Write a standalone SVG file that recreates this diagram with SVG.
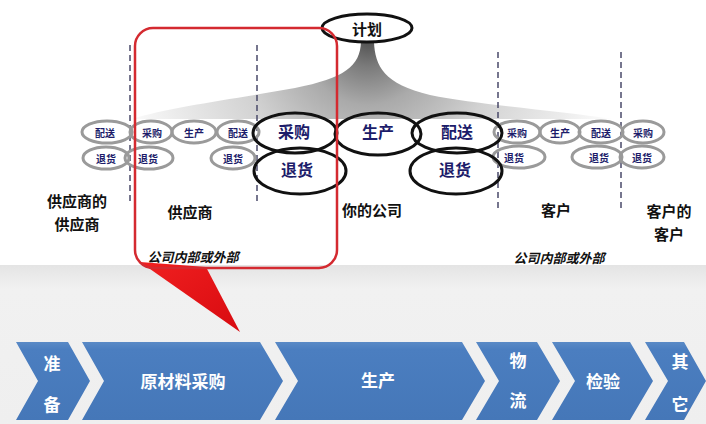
<svg xmlns="http://www.w3.org/2000/svg" width="706" height="424" viewBox="0 0 706 424">
<defs>
<radialGradient id="funnel" gradientUnits="userSpaceOnUse" cx="368" cy="40" r="260">
<stop offset="0" stop-color="#505050"/>
<stop offset="0.1" stop-color="#7a7a7a"/>
<stop offset="0.25" stop-color="#aaaaaa"/>
<stop offset="0.5" stop-color="#d2d2d2"/>
<stop offset="0.8" stop-color="#ececec"/>
<stop offset="1" stop-color="#ffffff"/>
</radialGradient>
<linearGradient id="bottombg" x1="0" y1="0" x2="0" y2="1">
<stop offset="0" stop-color="#e4e4e4"/>
<stop offset="0.15" stop-color="#f1f1f1"/>
<stop offset="1" stop-color="#efefef"/>
</linearGradient>
<linearGradient id="chev" x1="0" y1="0" x2="0" y2="1">
<stop offset="0" stop-color="#5a8ac6"/>
<stop offset="0.1" stop-color="#4b7ec0"/>
<stop offset="1" stop-color="#4577b8"/>
</linearGradient>
<linearGradient id="tail" x1="0" y1="0" x2="1" y2="1">
<stop offset="0" stop-color="#f02020"/>
<stop offset="1" stop-color="#d80a10"/>
</linearGradient>
</defs>
<style>
.sm{fill:none;stroke:#9a9a9a;stroke-width:3}
.big{fill:none;stroke:#111;stroke-width:3}
.smt{font-family:"Noto Sans CJK SC",sans-serif;font-size:10px;font-weight:bold;fill:#1c1c6a;text-anchor:middle;dominant-baseline:central}
.bigt{font-family:"Noto Sans CJK SC",sans-serif;font-size:16px;font-weight:bold;fill:#1c1c6a;text-anchor:middle;dominant-baseline:central}
.lbl{font-family:"Noto Sans CJK SC",sans-serif;font-size:15px;font-weight:bold;fill:#111;text-anchor:middle;dominant-baseline:central}
.it{font-family:"Noto Sans CJK SC",sans-serif;font-size:13px;font-weight:bold;font-style:italic;fill:#111;text-anchor:middle;dominant-baseline:central}
.dash{stroke:#4a4a6a;stroke-width:1.5;stroke-dasharray:6 4;fill:none}
.cv{fill:url(#chev)}
.cvt{font-family:"Noto Sans CJK SC",sans-serif;font-size:17px;font-weight:bold;fill:#ffffff;text-anchor:middle;dominant-baseline:central}
</style>
<rect x="0" y="0" width="706" height="424" fill="#ffffff"/>
<rect x="0" y="265" width="706" height="159" fill="url(#bottombg)"/>

<g id="funnel-shape">
<path d="M361,42 C360,66 345,78 295,88 C235,99 170,107 132,119 L612,119 C560,111 480,105 430,95 C384,84 375,66 374,42 Z" fill="url(#funnel)"/>
</g>

<g id="connectors">
<line class="dash" x1="130" y1="45" x2="130" y2="205"/>
<line class="dash" x1="257" y1="45" x2="257" y2="205"/>
<line class="dash" x1="498" y1="52" x2="498" y2="212"/>
<line class="dash" x1="621" y1="52" x2="621" y2="212"/>
</g>

<g id="plan">
<ellipse cx="367" cy="28" rx="45" ry="14" fill="#fff" stroke="#111" stroke-width="3"/>
<text class="lbl" x="367" y="28">计划</text>
</g>

<g id="supplier-small">
<ellipse class="sm" cx="107" cy="132" rx="25" ry="11"/>
<ellipse class="sm" cx="151" cy="132" rx="21" ry="11"/>
<ellipse class="sm" cx="194" cy="132" rx="22" ry="11"/>
<ellipse class="sm" cx="238" cy="132" rx="21" ry="11"/>
<ellipse class="sm" cx="106" cy="158" rx="23" ry="11"/>
<ellipse class="sm" cx="149" cy="158" rx="24" ry="11"/>
<ellipse class="sm" cx="233" cy="158" rx="22" ry="11"/>
<text class="smt" x="105" y="132">配送</text>
<text class="smt" x="152" y="132">采购</text>
<text class="smt" x="194" y="132">生产</text>
<text class="smt" x="238" y="132">配送</text>
<text class="smt" x="106" y="158">退货</text>
<text class="smt" x="148" y="158">退货</text>
<text class="smt" x="233" y="158">退货</text>
</g>

<g id="customer-small">
<ellipse class="sm" cx="517" cy="132" rx="23" ry="11"/>
<ellipse class="sm" cx="560" cy="132" rx="20" ry="11"/>
<ellipse class="sm" cx="601" cy="132" rx="22" ry="11"/>
<ellipse class="sm" cx="643" cy="132" rx="21" ry="11"/>
<ellipse class="sm" cx="519" cy="157" rx="26" ry="11"/>
<ellipse class="sm" cx="597" cy="157" rx="25" ry="11"/>
<ellipse class="sm" cx="642" cy="157" rx="22" ry="11"/>
<text class="smt" x="517" y="132">采购</text>
<text class="smt" x="560" y="132">生产</text>
<text class="smt" x="601" y="132">配送</text>
<text class="smt" x="643" y="132">采购</text>
<text class="smt" x="514" y="157">退货</text>
<text class="smt" x="599" y="157">退货</text>
<text class="smt" x="642" y="157">退货</text>
</g>

<g id="company">
<ellipse class="big" cx="295" cy="133" rx="42" ry="20"/>
<ellipse class="big" cx="378" cy="134" rx="43" ry="21"/>
<ellipse class="big" cx="457" cy="133" rx="45" ry="20"/>
<ellipse class="big" cx="300" cy="171" rx="46" ry="23"/>
<ellipse class="big" cx="456" cy="171" rx="46" ry="23"/>
<text class="bigt" x="294" y="131">采购</text>
<text class="bigt" x="378" y="131">生产</text>
<text class="bigt" x="457" y="131">配送</text>
<text class="bigt" x="297" y="169">退货</text>
<text class="bigt" x="455" y="169">退货</text>
</g>

<g id="labels">
<text class="lbl" x="77" y="200">供应商的</text>
<text class="lbl" x="77" y="223">供应商</text>
<text class="lbl" x="190" y="211">供应商</text>
<text class="lbl" x="372" y="209">你的公司</text>
<text class="lbl" x="556" y="209">客户</text>
<text class="lbl" x="669" y="210">客户的</text>
<text class="lbl" x="669" y="233">客户</text>
<text class="it" x="193" y="256">公司内部或外部</text>
<text class="it" x="559" y="257">公司内部或外部</text>
</g>

<g id="highlight">
<polygon points="140,262 206,267 240,332" fill="url(#tail)"/>
<rect x="135" y="28" width="202" height="240" rx="18" ry="18" fill="none" stroke="#d42a30" stroke-width="2.5"/>
</g>

<g id="step-prepare">
<path class="cv" d="M16,342 L68,342 L90,381 L68,420 L16,420 L38,381 Z"/>
<text class="cvt" x="52" y="362">准</text>
<text class="cvt" x="52" y="403">备</text>
</g>
<g id="step-purchase">
<path class="cv" d="M82,342 L260,342 L283,381 L260,420 L82,420 L104,381 Z"/>
<text class="cvt" x="183" y="380">原材料采购</text>
</g>
<g id="step-production">
<path class="cv" d="M275,342 L462,342 L485,381 L462,420 L275,420 L298,381 Z"/>
<text class="cvt" x="378" y="379">生产</text>
</g>
<g id="step-logistics">
<path class="cv" d="M476,342 L537,342 L560,381 L537,420 L476,420 L499,381 Z"/>
<text class="cvt" x="518" y="359">物</text>
<text class="cvt" x="518" y="399">流</text>
</g>
<g id="step-inspection">
<path class="cv" d="M552,342 L630,342 L653,381 L630,420 L552,420 L575,381 Z"/>
<text class="cvt" x="603" y="380">检验</text>
</g>
<g id="step-other">
<path class="cv" d="M645,342 L684,342 L706,381 L684,420 L645,420 L668,381 Z"/>
<text class="cvt" x="680" y="360">其</text>
<text class="cvt" x="680" y="403">它</text>
</g>
</svg>
